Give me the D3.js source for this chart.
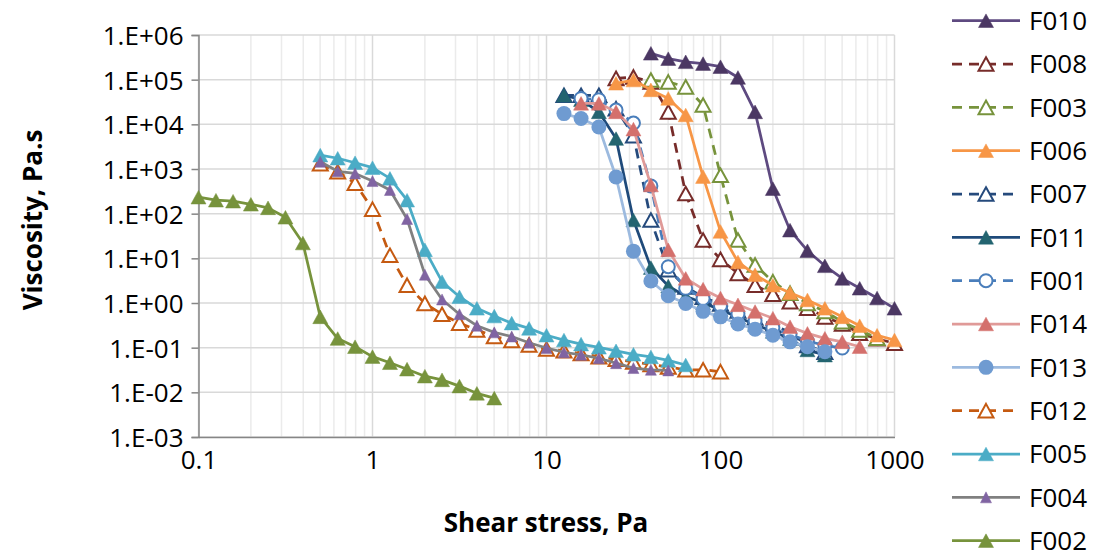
<!DOCTYPE html>
<html>
<head>
<meta charset="utf-8">
<script src="https://cdn.jsdelivr.net/npm/d3@7"></script>
<style>
  body { margin: 0; background: #fff; }
  svg { display: block; font-family: "Open Sans", sans-serif; }
</style>
</head>
<body>
<svg id="chart" width="1107" height="552"></svg>
<script>
// shear stress steps (Pa) - markers sit on 10 steps per decade
const stressSteps = [0.1, 0.126, 0.158, 0.2, 0.251, 0.316, 0.398, 0.501, 0.631, 0.794,
  1, 1.26, 1.58, 2, 2.51, 3.16, 3.98, 5.01, 6.31, 7.94,
  10, 12.6, 15.8, 20, 25.1, 31.6, 39.8, 50.1, 63.1, 79.4,
  100, 126, 158, 200, 251, 316, 398, 501, 631, 794, 1000];

const seriesNames = ["F010", "F008", "F003", "F006", "F007", "F011", "F001",
  "F014", "F013", "F012", "F005", "F004", "F002"];

// first shear stress of each run
const firstStress = [39.8, 25.1, 39.8, 25.1, 12.6, 12.6, 15.8, 15.8, 12.6, 0.501, 0.501, 0.501, 0.1];

// viscosity (Pa.s)
const viscF010 = [389000, 295000, 251000, 229000, 195000, 112000, 19000, 363, 42.7, 14.8, 6.8, 3.55, 2.14, 1.29, 0.76];
const viscF008 = [107000, 115000, 89000, 19000, 282, 25.7, 9.5, 4.6, 2.5, 1.58, 1.07, 0.76, 0.49, 0.34, 0.21, 0.158, 0.126];
const viscF003 = [98000, 89000, 69000, 27000, 724, 25.7, 7.1, 3.0, 1.66, 0.98, 0.65, 0.38, 0.25, 0.162];
const viscF006 = [83000, 98000, 59000, 38000, 16200, 676, 40, 8.3, 4.3, 2.5, 1.7, 1.17, 0.76, 0.49, 0.31, 0.19, 0.148];
const viscF007 = [44700, 44700, 44700, 22400, 5600, 72, 5.6, 2.3, 1.35, 0.95, 0.66, 0.46, 0.32, 0.22, 0.112, 0.079];
const viscF011 = [44700, 35500, 19000, 4800, 72, 6.2, 2.4, 1.41, 1.0, 0.71, 0.48, 0.33, 0.23, 0.158, 0.089, 0.068];
const viscF001 = [38000, 35500, 20900, 10700, 417, 6.5, 2.14, 1.26, 0.87, 0.575, 0.40, 0.28, 0.20, 0.141, 0.112, 0.098];
const viscF014 = [29500, 29500, 19000, 7800, 437, 15.5, 3.55, 2.04, 1.29, 0.91, 0.645, 0.457, 0.295, 0.209, 0.162, 0.135, 0.105];
const viscF013 = [17400, 13500, 8700, 660, 14.5, 3.1, 1.45, 0.98, 0.65, 0.49, 0.34, 0.26, 0.19, 0.135, 0.105, 0.081];
const viscF012 = [1320, 870, 480, 126, 11.7, 2.5, 0.98, 0.56, 0.355, 0.25, 0.178, 0.145, 0.115, 0.093, 0.085, 0.074, 0.063, 0.055, 0.048, 0.042, 0.037, 0.032, 0.032, 0.029];
const viscF005 = [2040, 1740, 1380, 1070, 617, 200, 15.5, 3.0, 1.38, 0.76, 0.51, 0.355, 0.27, 0.19, 0.148, 0.12, 0.102, 0.085, 0.071, 0.062, 0.052, 0.041];
const viscF004 = [1450, 890, 795, 537, 339, 76, 4.3, 1.2, 0.56, 0.31, 0.22, 0.178, 0.129, 0.098, 0.079, 0.069, 0.058, 0.045, 0.035, 0.032, 0.031];
const viscF002 = [234, 200, 190, 162, 135, 83, 22, 0.49, 0.16, 0.105, 0.063, 0.046, 0.033, 0.023, 0.019, 0.0138, 0.0095, 0.0074];

const viscosity = [viscF010, viscF008, viscF003, viscF006, viscF007, viscF011, viscF001,
  viscF014, viscF013, viscF012, viscF005, viscF004, viscF002];

const xTicks = [0.1, 1, 10, 100, 1000];
const yTicks = [1e-3, 1e-2, 1e-1, 1, 1e1, 1e2, 1e3, 1e4, 1e5, 1e6];

// look of each series: line colour, marker colour, dashed, marker shape, open marker
const styles = {
  F010: { line: "#5e4a80", mark: "#4b3763", dash: false, shape: "tri", open: false },
  F008: { line: "#772c2a", mark: "#772c2a", dash: true,  shape: "tri", open: true },
  F003: { line: "#77933c", mark: "#77933c", dash: true,  shape: "tri", open: true },
  F006: { line: "#f79646", mark: "#f79646", dash: false, shape: "tri", open: false },
  F007: { line: "#254a7c", mark: "#254a7c", dash: true,  shape: "tri", open: true },
  F011: { line: "#1f4a7a", mark: "#236470", dash: false, shape: "tri", open: false },
  F001: { line: "#4a7ebb", mark: "#4a7ebb", dash: true,  shape: "circle", open: true },
  F014: { line: "#e09a98", mark: "#d4706c", dash: false, shape: "tri", open: false },
  F013: { line: "#9cbadf", mark: "#6f9bd1", dash: false, shape: "circle", open: false },
  F012: { line: "#c55a11", mark: "#c55a11", dash: true,  shape: "tri", open: true },
  F005: { line: "#4bacc6", mark: "#4bacc6", dash: false, shape: "tri", open: false },
  F004: { line: "#808080", mark: "#8064a2", dash: false, shape: "small", open: false },
  F002: { line: "#77933c", mark: "#77933c", dash: false, shape: "tri", open: false }
};

const series = seriesNames.map((name, i) => {
  const start = stressSteps.indexOf(firstStress[i]);
  const vals = viscosity[i];
  return {
    name: name,
    style: styles[name],
    points: vals.map((v, j) => ({ x: stressSteps[start + j], y: v }))
  };
});

const svg = d3.select("#chart");

const x = d3.scaleLog().domain([0.1, 1000]).range([198.5, 894.5]);
const y = d3.scaleLog().domain([1e-3, 1e6]).range([437, 35]);

//Gridlines
const minorX = [];
for (let d = 0.1; d < 1000; d *= 10) {
  for (let k = 2; k <= 9; k++) minorX.push(d * k);
}
svg.append("g").selectAll("line")
  .data(minorX)
  .enter().append("line")
  .attr("x1", d => x(d)).attr("x2", d => x(d))
  .attr("y1", y(1e6)).attr("y2", y(1e-3))
  .attr("stroke", "#ebebeb").attr("stroke-width", 1.5);

svg.append("g").selectAll("line")
  .data(xTicks)
  .enter().append("line")
  .attr("x1", d => x(d)).attr("x2", d => x(d))
  .attr("y1", y(1e6)).attr("y2", y(1e-3))
  .attr("stroke", "#d9d9d9").attr("stroke-width", 1.5);

svg.append("g").selectAll("line")
  .data(yTicks)
  .enter().append("line")
  .attr("x1", x(0.1)).attr("x2", x(1000))
  .attr("y1", d => y(d)).attr("y2", d => y(d))
  .attr("stroke", "#d9d9d9").attr("stroke-width", 1.5);

//Axes
const fmtY = d => {
  const e = Math.round(Math.log10(d));
  return "1.E" + (e < 0 ? "-" : "+") + String(Math.abs(e)).padStart(2, "0");
};

const yAxis = d3.axisLeft(y).tickValues(yTicks).tickFormat(fmtY).tickSize(7).tickPadding(8);
const xAxis = d3.axisBottom(x).tickValues(xTicks).tickFormat(d => String(d)).tickSize(0).tickPadding(14);

const gy = svg.append("g")
  .attr("transform", "translate(" + x(0.1) + ",0)")
  .call(yAxis);
const gx = svg.append("g")
  .attr("transform", "translate(0," + y(1e-3) + ")")
  .call(xAxis);

[gx, gy].forEach(g => {
  g.select(".domain").attr("stroke", "#868686").attr("stroke-width", 1.5);
  g.selectAll(".tick line").attr("stroke", "#868686").attr("stroke-width", 1.5);
  g.selectAll(".tick text")
    .style("font-family", "'Open Sans', sans-serif")
    .style("font-size", "26px")
    .attr("fill", "#000");
});
gy.selectAll(".tick text").attr("dy", "0.36em");

svg.append("text")
  .attr("transform", "translate(42,220) rotate(-90)")
  .attr("text-anchor", "middle")
  .style("font-size", "26px").style("font-weight", "bold")
  .text("Viscosity, Pa.s");

svg.append("text")
  .attr("x", 546).attr("y", 532)
  .attr("text-anchor", "middle")
  .style("font-size", "26px").style("font-weight", "bold")
  .text("Shear stress, Pa");

//Markers
function drawMarker(g, st) {
  if (st.shape === "circle") {
    g.append("circle").attr("r", st.open ? 6.5 : 7.5)
      .attr("fill", st.open ? "#fff" : st.mark)
      .attr("stroke", st.mark).attr("stroke-width", st.open ? 2 : 0);
  } else {
    const w = st.shape === "small" ? 5.5 : 7.5;
    const h = st.shape === "small" ? 5.5 : 6.8;
    g.append("path")
      .attr("d", "M0," + (-h) + "L" + w + "," + h + "L" + (-w) + "," + h + "Z")
      .attr("fill", st.open ? "#fff" : st.mark)
      .attr("stroke", st.mark)
      .attr("stroke-width", st.open ? 2 : 0.5)
      .attr("stroke-linejoin", "miter");
  }
}

const line = d3.line().x(d => x(d.x)).y(d => y(d.y));

series.forEach(s => {
  const g = svg.append("g").attr("class", "series");
  g.append("path")
    .attr("d", line(s.points))
    .attr("fill", "none")
    .attr("stroke", s.style.line)
    .attr("stroke-width", 2.75)
    .attr("stroke-dasharray", s.style.dash ? "10,7" : null)
    .attr("stroke-linejoin", "round");
  g.selectAll(".pt")
    .data(s.points)
    .enter().append("g")
    .attr("class", "pt")
    .attr("transform", d => "translate(" + x(d.x) + "," + y(d.y) + ")")
    .each(function () { drawMarker(d3.select(this), s.style); });
});

//Legend
const legend = svg.selectAll(".legend")
  .data(series)
  .enter().append("g")
  .attr("class", "legend")
  .attr("transform", (d, i) => "translate(0," + (20.7 + i * 43.33) + ")");

legend.append("line")
  .attr("x1", 952).attr("x2", 1020)
  .attr("stroke", d => d.style.line)
  .attr("stroke-width", 2.75)
  .attr("stroke-dasharray", d => d.style.dash ? "10,7" : null);

legend.append("g")
  .attr("transform", "translate(986,0)")
  .each(function (d) { drawMarker(d3.select(this), d.style); });

legend.append("text")
  .attr("x", 1029)
  .attr("dy", "0.36em")
  .style("font-size", "26px")
  .attr("fill", "#000")
  .text(d => d.name);
</script>
</body>
</html>
